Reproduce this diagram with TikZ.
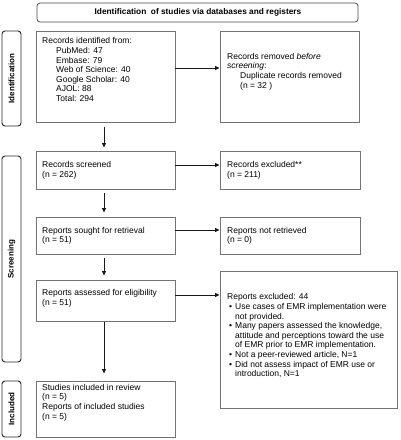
\documentclass[tikz,border=0pt]{standalone}
\usepackage{fontspec}
\setmainfont{Liberation Sans}
\usetikzlibrary{arrows.meta,calc}
\begin{document}
\begin{tikzpicture}[x=1pt,y=-1pt,
  box/.style={draw=black!55,line width=0.9pt,fill=white,rectangle,inner sep=0pt},
  sidebox/.style={draw=black!85,line width=0.9pt,rounded corners=3pt,fill=white,inner sep=0pt},
  hdrbox/.style={draw=black!70,line width=0.8pt,rounded corners=3pt,fill=white,inner sep=0pt},
  txt/.style={anchor=north west,inner sep=0pt,align=left,font=\fontsize{8.5}{9.6}\selectfont},
  sidetxt/.style={rotate=90,inner sep=0pt,font=\fontsize{8}{9}\selectfont\bfseries},
  arr/.style={draw=black!90,line width=0.8pt,-{Triangle[length=4.5pt,width=4pt]}},
]
\useasboundingbox (0,0) rectangle (401,440);
\fill[white] (0,0) rectangle (401,440);
% header
\draw[hdrbox] (37,3) rectangle (358,22);
\node[inner sep=0pt,font=\fontsize{8.3}{9}\selectfont\bfseries] (hdr) at (198,12.5) {Identification\ \ of studies via databases and registers};
% side labels
\draw[sidebox] (2,31) rectangle (21,126);
\node[sidetxt] (lid) at (11.5,78.5) {Identification};
\draw[sidebox] (2,156) rectangle (21,362);
\node[sidetxt] (lscr) at (11.5,259) {Screening};
\draw[sidebox] (2,381) rectangle (21,437);
\node[sidetxt] (linc) at (11.5,409) {Included};
% boxes
\node[box,minimum width=139pt,minimum height=91pt] (idb) at (105.5,76.5) {};
\node[box,minimum width=139pt,minimum height=91pt] (remb) at (289.5,76.5) {};
\node[box,minimum width=139pt,minimum height=38pt] (scrb) at (105.5,170) {};
\node[box,minimum width=140pt,minimum height=38pt] (excb) at (290,170) {};
\node[box,minimum width=139pt,minimum height=37pt] (sgb) at (105.5,235.5) {};
\node[box,minimum width=140pt,minimum height=37pt] (nrb) at (290,235.5) {};
\node[box,minimum width=139pt,minimum height=41pt] (asb) at (105.5,300.5) {};
\node[box,minimum width=177pt,minimum height=137pt] (rxb) at (308.5,339.5) {};
\node[box,minimum width=139pt,minimum height=56pt] (inb) at (105.5,409) {};
% texts
\node[txt] (idt) at (42,37.5) {Records identified from:\\
\hspace*{14pt}PubMed: 47\\
\hspace*{14pt}Embase: 79\\
\hspace*{14pt}Web of Science: 40\\
\hspace*{14pt}Google Scholar: 40\\
\hspace*{14pt}AJOL: 88\\
\hspace*{14pt}Total: 294};
\node[txt] (remt) at (227,53) {Records removed \textit{before}\\
\textit{screening}:\\
\hspace*{13pt}Duplicate records removed\\
\hspace*{13pt}(n = 32 )};
\node[txt] (scrt) at (42,161.5) {Records screened\\(n = 262)};
\node[txt] (exct) at (227,161.5) {Records excluded**\\(n = 211)};
\node[txt] (sgt) at (42,227) {Reports sought for retrieval\\(n = 51)};
\node[txt] (nrt) at (227,227) {Reports not retrieved\\(n = 0)};
\node[txt] (ast) at (42,289.5) {Reports assessed for eligibility\\(n = 51)};
\node[txt] (rxt) at (227,293.5) {Reports excluded: 44\\
\hspace*{2pt}\makebox[6pt][l]{\textbullet}Use cases of EMR implementation were\\
\hspace*{8pt}not provided.\\
\hspace*{2pt}\makebox[6pt][l]{\textbullet}Many papers assessed the knowledge,\\
\hspace*{8pt}attitude and perceptions toward the use\\
\hspace*{8pt}of EMR prior to EMR implementation.\\
\hspace*{2pt}\makebox[6pt][l]{\textbullet}Not a peer-reviewed article, N=1\\
\hspace*{2pt}\makebox[6pt][l]{\textbullet}Did not assess impact of EMR use or\\
\hspace*{8pt}introduction, N=1};
\node[txt] (int) at (42,384) {Studies included in review\\(n = 5)\\Reports of included studies\\(n = 5)};
% horizontal arrows
\draw[arr] ([yshift=8.5pt]idb.east) -- ([yshift=8.5pt]idb.east -| remb.west);
\draw[arr] ([yshift=5pt]scrb.east) -- ([yshift=5pt]scrb.east -| excb.west);
\draw[arr] ([yshift=5.5pt]sgb.east) -- ([yshift=5.5pt]sgb.east -| nrb.west);
\draw[arr] ([yshift=5.5pt]asb.east) -- ([yshift=5.5pt]asb.east -| rxb.west);
% vertical arrows
\draw[arr,shorten <=5pt,shorten >=3pt] ([xshift=-1.5pt]idb.south) -- ([xshift=-1.5pt]scrb.north);
\draw[arr,shorten <=4pt,shorten >=4pt] ([xshift=-1.5pt]scrb.south) -- ([xshift=-1.5pt]sgb.north);
\draw[arr,shorten <=4pt,shorten >=4pt] ([xshift=-1.5pt]sgb.south) -- ([xshift=-1.5pt]asb.north);
\draw[arr,shorten <=1pt,shorten >=7pt] ([xshift=-1.5pt]asb.south) -- ([xshift=-1.5pt]inb.north);
\end{tikzpicture}
\end{document}
